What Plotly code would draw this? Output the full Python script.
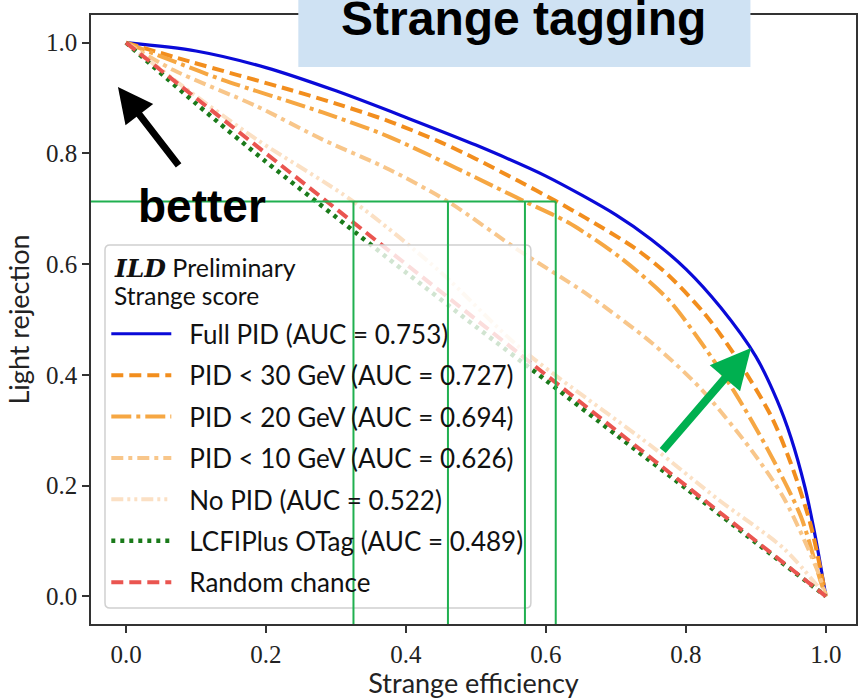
import plotly.graph_objects as go

# ---------------- data ----------------
eff_full = [0, 0.1, 0.2, 0.3, 0.4, 0.5, 0.6, 0.7, 0.75, 0.8, 0.85, 0.9, 0.93, 0.95, 0.97, 0.985, 1.0]
rej_full = [1, 0.985, 0.955, 0.913, 0.865, 0.815, 0.759, 0.689, 0.645, 0.591, 0.521, 0.433, 0.355, 0.287, 0.197, 0.107, 0.0]

eff_30 = [0, 0.091, 0.234, 0.3, 0.376, 0.45, 0.5, 0.561, 0.614, 0.656, 0.728, 0.775, 0.827, 0.87, 0.922, 0.95, 0.978, 1.0]
rej_30 = [1, 0.966, 0.915, 0.89, 0.858, 0.82, 0.79, 0.75, 0.714, 0.684, 0.628, 0.58, 0.51, 0.435, 0.325, 0.24, 0.13, 0.0]

eff_20 = [0, 0.138, 0.281, 0.376, 0.570, 0.632, 0.704, 0.775, 0.822, 0.870, 0.917, 0.964, 0.993, 1.0]
rej_20 = [1, 0.933, 0.874, 0.830, 0.713, 0.675, 0.614, 0.536, 0.458, 0.368, 0.265, 0.145, 0.025, 0.0]

eff_10 = [0, 0.067, 0.187, 0.281, 0.376, 0.46, 0.561, 0.656, 0.751, 0.822, 0.893, 0.941, 0.989, 1.0]
rej_10 = [1, 0.951, 0.885, 0.825, 0.771, 0.713, 0.625, 0.548, 0.458, 0.374, 0.265, 0.175, 0.043, 0.0]

eff_nopid = [0, 0.091, 0.187, 0.325, 0.45, 0.561, 0.751, 0.846, 0.941, 1.0]
rej_nopid = [1, 0.912, 0.825, 0.713, 0.585, 0.451, 0.271, 0.175, 0.085, 0.0]

eff_lcfi = [0, 0.1, 0.2, 0.3, 0.4, 0.5, 0.6, 0.7, 0.8, 0.9, 1.0]
rej_lcfi = [1, 0.89, 0.785, 0.685, 0.585, 0.487, 0.39, 0.292, 0.195, 0.097, 0.0]

eff_rand = [0, 1]
rej_rand = [1, 0]

labels = [
    "Full PID (AUC = 0.753)",
    "PID < 30 GeV (AUC = 0.727)",
    "PID < 20 GeV (AUC = 0.694)",
    "PID < 10 GeV (AUC = 0.626)",
    "No PID (AUC = 0.522)",
    "LCFIPlus OTag (AUC = 0.489)",
    "Random chance",
]

# working points marked by the green guide lines
wp_eff = [0.325, 0.46, 0.57, 0.614]
wp_rej = 0.713

x_ticks = [0.0, 0.2, 0.4, 0.6, 0.8, 1.0]
y_ticks = [0.0, 0.2, 0.4, 0.6, 0.8, 1.0]
tick_text = ["0.0", "0.2", "0.4", "0.6", "0.8", "1.0"]

# ---------------- styles ----------------
series = [
    (eff_full, rej_full, "#0a0ad8", 3.2, "solid"),
    (eff_30, rej_30, "#f28e1e", 4, "12px,6px"),
    (eff_20, rej_20, "#f6a743", 4, "20px,5px,4px,5px"),
    (eff_10, rej_10, "#f8c68a", 4, "12px,5px,4px,5px"),
    (eff_nopid, rej_nopid, "#fbe0c4", 4, "12px,4px,3px,4px,3px,4px"),
    (eff_lcfi, rej_lcfi, "#1a7a1a", 4.5, "4px,5px"),
    (eff_rand, rej_rand, "#ea5550", 4, "12px,6px"),
]

fig = go.Figure()
for i, ((xs, ys, col, w, dash), name) in enumerate(zip(series, labels)):
    fig.add_trace(go.Scatter(
        x=xs, y=ys, mode="lines", name="\u2002" + name, legendgroup=f"g{i}",
        line=dict(color=col, width=w, dash=dash, shape="spline", smoothing=0.8),
        hoverinfo="skip",
    ))

GREEN = "#20b050"
shapes = []
# legend background (semi-transparent, like matplotlib frame)
lx0, lx1, ly0, ly1 = 0.0183, 0.575, 0.0263, 0.6223
rx, ry = 0.0065, 0.0082
path = (f"M{lx0+rx},{ly1} L{lx1-rx},{ly1} Q{lx1},{ly1} {lx1},{ly1-ry} "
        f"L{lx1},{ly0+ry} Q{lx1},{ly0} {lx1-rx},{ly0} L{lx0+rx},{ly0} "
        f"Q{lx0},{ly0} {lx0},{ly0+ry} L{lx0},{ly1-ry} Q{lx0},{ly1} {lx0+rx},{ly1} Z")
shapes.append(dict(type="path", xref="paper", yref="paper", path=path,
                   fillcolor="rgba(255,255,255,0.8)", line=dict(color="#d0d0d0", width=1.5),
                   layer="above"))
# green guide lines
shapes.append(dict(type="line", xref="x", yref="y", x0=-0.05, x1=max(wp_eff), y0=wp_rej, y1=wp_rej,
                   line=dict(color=GREEN, width=2), layer="above"))
for e in wp_eff:
    shapes.append(dict(type="line", xref="x", yref="y", x0=e, x1=e, y0=wp_rej, y1=-0.05,
                       line=dict(color=GREEN, width=2), layer="above"))
# title box
shapes.append(dict(type="rect", xref="paper", yref="paper", x0=0.271, x1=0.862, y0=0.9146, y1=1.03,
                   fillcolor="#cfe2f3", line=dict(width=0), layer="above"))

LEG_FONT = "Lato"
annotations = [
    dict(text="<b>Strange tagging</b>", xref="paper", yref="paper", x=0.566, y=0.994,
         xanchor="center", yanchor="middle", showarrow=False,
         font=dict(family="Liberation Sans", size=48, color="black")),
    dict(text="<b>better</b>", xref="x", yref="y", x=0.109, y=0.705,
         xanchor="center", yanchor="middle", showarrow=False,
         font=dict(family="Liberation Sans", size=46, color="black")),
    dict(text="", xref="x", yref="y", axref="x", ayref="y", x=-0.0115, y=0.920, ax=0.0768, ay=0.7755,
         showarrow=True, arrowhead=2, arrowsize=1, arrowwidth=7, arrowcolor="black", standoff=0),
    dict(text="", xref="x", yref="y", axref="x", ayref="y", x=0.893, y=0.4485, ax=0.765, ay=0.2607,
         showarrow=True, arrowhead=2, arrowsize=1, arrowwidth=8, arrowcolor="#00b050", standoff=0),
    # legend heading
    dict(text="<span style='font-family:DejaVu Serif'><b><i>ILD</i></b></span> Preliminary",
         xref="paper", yref="paper", x=(112 - 91) / 767, y=(624 - 267) / 609,
         xanchor="left", yanchor="middle", showarrow=False,
         font=dict(family=LEG_FONT, size=25, color="#111")),
    dict(text="Strange score",
         xref="paper", yref="paper", x=(112 - 91) / 767, y=(624 - 295) / 609,
         xanchor="left", yanchor="middle", showarrow=False,
         font=dict(family=LEG_FONT, size=24.5, color="#111")),
]

SERIF = "Liberation Serif"
axis_common = dict(showgrid=False, zeroline=False, showline=True, linecolor="#333", linewidth=1.5,
                   mirror=True, ticks="outside", ticklen=7, tickwidth=1.5, tickcolor="#333",
                   tickfont=dict(family=SERIF, size=25, color="#222"))

fig.update_layout(
    width=861, height=699,
    margin=dict(l=91, r=3, t=15, b=75),
    paper_bgcolor="white", plot_bgcolor="white",
    xaxis=dict(range=[-0.05, 1.043], tickvals=x_ticks, ticktext=tick_text,
               title=dict(text="Strange efficiency", font=dict(family=LEG_FONT, size=27, color="#222"), standoff=4),
               **axis_common),
    yaxis=dict(range=[-0.05, 1.05], tickvals=y_ticks, ticktext=tick_text,
               title=dict(text="Light rejection", font=dict(family=LEG_FONT, size=27, color="#222"), standoff=9),
               **axis_common),
    legend=dict(x=0.02, y=0.515, xanchor="left", yanchor="top",
                bgcolor="rgba(0,0,0,0)", borderwidth=0,
                font=dict(family=LEG_FONT, size=26, color="#111"),
                tracegroupgap=4.6, itemwidth=60),
    shapes=shapes,
    annotations=annotations,
    showlegend=True,
)

fig.write_html("out.html")
